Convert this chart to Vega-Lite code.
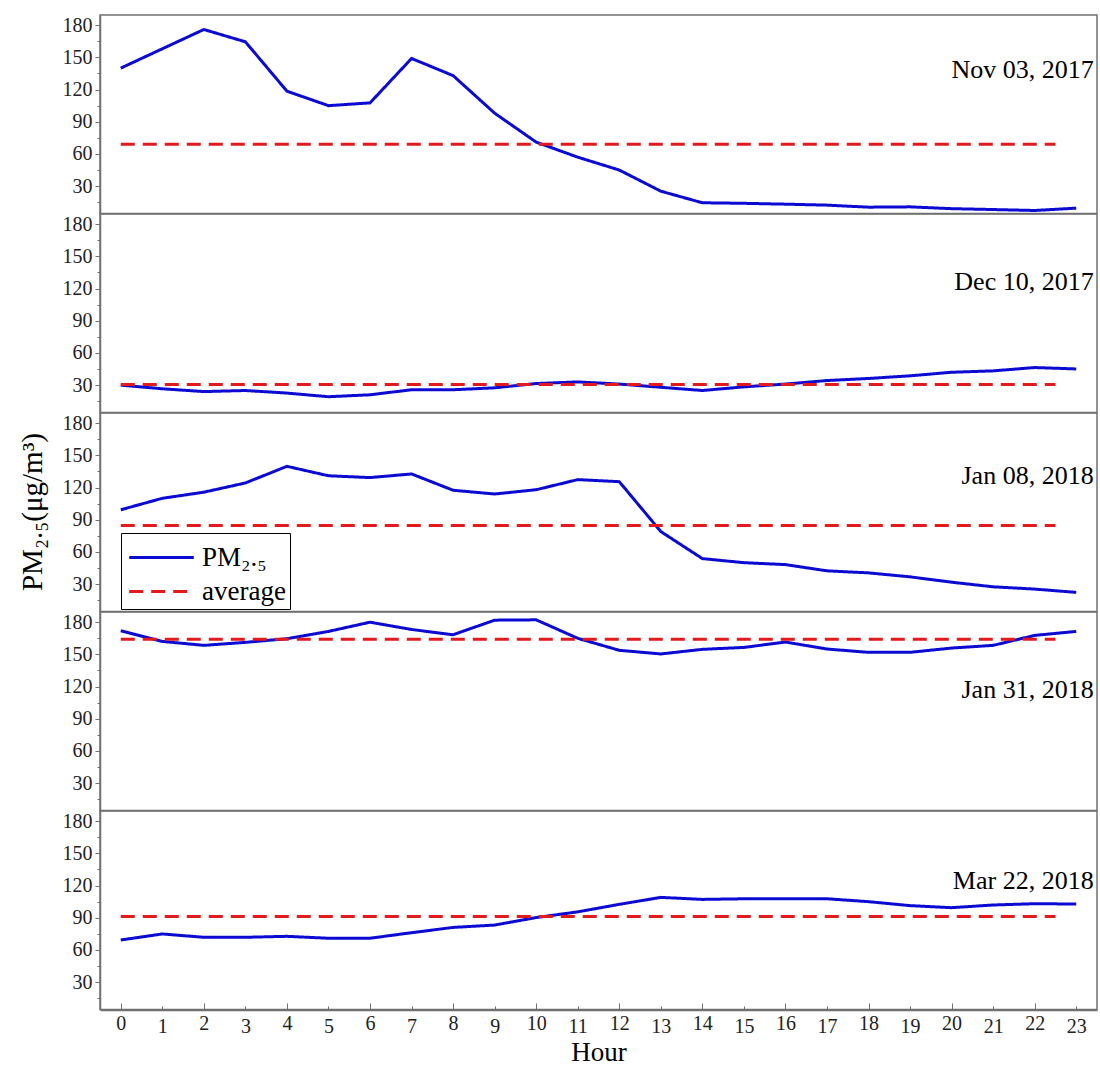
{
  "$schema": "https://vega.github.io/schema/vega-lite/v6.json",
  "padding": {"left": 18, "top": 14, "right": 3, "bottom": 0},
  "background": "white",
  "bounds": "flush",
  "datasets": {
    "pm": [
      {"date":"Nov 03, 2017","series":"PM₂.₅","hour":0,"value":140},{"date":"Nov 03, 2017","series":"PM₂.₅","hour":1,"value":158},{"date":"Nov 03, 2017","series":"PM₂.₅","hour":2,"value":176},{"date":"Nov 03, 2017","series":"PM₂.₅","hour":3,"value":164.5},{"date":"Nov 03, 2017","series":"PM₂.₅","hour":4,"value":118.5},{"date":"Nov 03, 2017","series":"PM₂.₅","hour":5,"value":105},{"date":"Nov 03, 2017","series":"PM₂.₅","hour":6,"value":107.6},{"date":"Nov 03, 2017","series":"PM₂.₅","hour":7,"value":149},{"date":"Nov 03, 2017","series":"PM₂.₅","hour":8,"value":133},{"date":"Nov 03, 2017","series":"PM₂.₅","hour":9,"value":98},{"date":"Nov 03, 2017","series":"PM₂.₅","hour":10,"value":71},{"date":"Nov 03, 2017","series":"PM₂.₅","hour":11,"value":57},{"date":"Nov 03, 2017","series":"PM₂.₅","hour":12,"value":45},{"date":"Nov 03, 2017","series":"PM₂.₅","hour":13,"value":25.3},{"date":"Nov 03, 2017","series":"PM₂.₅","hour":14,"value":14.5},{"date":"Nov 03, 2017","series":"PM₂.₅","hour":15,"value":14},{"date":"Nov 03, 2017","series":"PM₂.₅","hour":16,"value":13.2},{"date":"Nov 03, 2017","series":"PM₂.₅","hour":17,"value":12.3},{"date":"Nov 03, 2017","series":"PM₂.₅","hour":18,"value":10.4},{"date":"Nov 03, 2017","series":"PM₂.₅","hour":19,"value":10.7},{"date":"Nov 03, 2017","series":"PM₂.₅","hour":20,"value":9},{"date":"Nov 03, 2017","series":"PM₂.₅","hour":21,"value":8.2},{"date":"Nov 03, 2017","series":"PM₂.₅","hour":22,"value":7.3},{"date":"Nov 03, 2017","series":"PM₂.₅","hour":23,"value":9.5},
      {"date":"Nov 03, 2017","series":"average","hour":0,"value":69},{"date":"Nov 03, 2017","series":"average","hour":22.5,"value":69},
      {"date":"Dec 10, 2017","series":"PM₂.₅","hour":0,"value":30},{"date":"Dec 10, 2017","series":"PM₂.₅","hour":1,"value":26.6},{"date":"Dec 10, 2017","series":"PM₂.₅","hour":2,"value":24},{"date":"Dec 10, 2017","series":"PM₂.₅","hour":3,"value":25},{"date":"Dec 10, 2017","series":"PM₂.₅","hour":4,"value":22.6},{"date":"Dec 10, 2017","series":"PM₂.₅","hour":5,"value":19.2},{"date":"Dec 10, 2017","series":"PM₂.₅","hour":6,"value":21},{"date":"Dec 10, 2017","series":"PM₂.₅","hour":7,"value":25.7},{"date":"Dec 10, 2017","series":"PM₂.₅","hour":8,"value":25.7},{"date":"Dec 10, 2017","series":"PM₂.₅","hour":9,"value":27.5},{"date":"Dec 10, 2017","series":"PM₂.₅","hour":10,"value":31.5},{"date":"Dec 10, 2017","series":"PM₂.₅","hour":11,"value":33},{"date":"Dec 10, 2017","series":"PM₂.₅","hour":12,"value":31},{"date":"Dec 10, 2017","series":"PM₂.₅","hour":13,"value":28},{"date":"Dec 10, 2017","series":"PM₂.₅","hour":14,"value":25},{"date":"Dec 10, 2017","series":"PM₂.₅","hour":15,"value":28.4},{"date":"Dec 10, 2017","series":"PM₂.₅","hour":16,"value":31},{"date":"Dec 10, 2017","series":"PM₂.₅","hour":17,"value":34.3},{"date":"Dec 10, 2017","series":"PM₂.₅","hour":18,"value":36.2},{"date":"Dec 10, 2017","series":"PM₂.₅","hour":19,"value":38.7},{"date":"Dec 10, 2017","series":"PM₂.₅","hour":20,"value":42},{"date":"Dec 10, 2017","series":"PM₂.₅","hour":21,"value":43.3},{"date":"Dec 10, 2017","series":"PM₂.₅","hour":22,"value":46.4},{"date":"Dec 10, 2017","series":"PM₂.₅","hour":23,"value":45.1},
      {"date":"Dec 10, 2017","series":"average","hour":0,"value":30.5},{"date":"Dec 10, 2017","series":"average","hour":22.5,"value":30.5},
      {"date":"Jan 08, 2018","series":"PM₂.₅","hour":0,"value":99.3},{"date":"Jan 08, 2018","series":"PM₂.₅","hour":1,"value":110},{"date":"Jan 08, 2018","series":"PM₂.₅","hour":2,"value":115.7},{"date":"Jan 08, 2018","series":"PM₂.₅","hour":3,"value":124.3},{"date":"Jan 08, 2018","series":"PM₂.₅","hour":4,"value":139.8},{"date":"Jan 08, 2018","series":"PM₂.₅","hour":5,"value":131},{"date":"Jan 08, 2018","series":"PM₂.₅","hour":6,"value":129.3},{"date":"Jan 08, 2018","series":"PM₂.₅","hour":7,"value":132.7},{"date":"Jan 08, 2018","series":"PM₂.₅","hour":8,"value":117.5},{"date":"Jan 08, 2018","series":"PM₂.₅","hour":9,"value":114},{"date":"Jan 08, 2018","series":"PM₂.₅","hour":10,"value":118},{"date":"Jan 08, 2018","series":"PM₂.₅","hour":11,"value":127.4},{"date":"Jan 08, 2018","series":"PM₂.₅","hour":12,"value":125.5},{"date":"Jan 08, 2018","series":"PM₂.₅","hour":13,"value":79},{"date":"Jan 08, 2018","series":"PM₂.₅","hour":14,"value":53.8},{"date":"Jan 08, 2018","series":"PM₂.₅","hour":15,"value":50},{"date":"Jan 08, 2018","series":"PM₂.₅","hour":16,"value":48.2},{"date":"Jan 08, 2018","series":"PM₂.₅","hour":17,"value":42.4},{"date":"Jan 08, 2018","series":"PM₂.₅","hour":18,"value":40.5},{"date":"Jan 08, 2018","series":"PM₂.₅","hour":19,"value":36.8},{"date":"Jan 08, 2018","series":"PM₂.₅","hour":20,"value":31.8},{"date":"Jan 08, 2018","series":"PM₂.₅","hour":21,"value":27.5},{"date":"Jan 08, 2018","series":"PM₂.₅","hour":22,"value":25.4},{"date":"Jan 08, 2018","series":"PM₂.₅","hour":23,"value":22.3},
      {"date":"Jan 08, 2018","series":"average","hour":0,"value":84.7},{"date":"Jan 08, 2018","series":"average","hour":22.5,"value":84.7},
      {"date":"Jan 31, 2018","series":"PM₂.₅","hour":0,"value":172},{"date":"Jan 31, 2018","series":"PM₂.₅","hour":1,"value":162.1},{"date":"Jan 31, 2018","series":"PM₂.₅","hour":2,"value":158.4},{"date":"Jan 31, 2018","series":"PM₂.₅","hour":3,"value":161.2},{"date":"Jan 31, 2018","series":"PM₂.₅","hour":4,"value":164.6},{"date":"Jan 31, 2018","series":"PM₂.₅","hour":5,"value":171.4},{"date":"Jan 31, 2018","series":"PM₂.₅","hour":6,"value":180},{"date":"Jan 31, 2018","series":"PM₂.₅","hour":7,"value":173.2},{"date":"Jan 31, 2018","series":"PM₂.₅","hour":8,"value":168.3},{"date":"Jan 31, 2018","series":"PM₂.₅","hour":9,"value":181.9},{"date":"Jan 31, 2018","series":"PM₂.₅","hour":10,"value":182.2},{"date":"Jan 31, 2018","series":"PM₂.₅","hour":11,"value":165},{"date":"Jan 31, 2018","series":"PM₂.₅","hour":12,"value":153.8},{"date":"Jan 31, 2018","series":"PM₂.₅","hour":13,"value":150.4},{"date":"Jan 31, 2018","series":"PM₂.₅","hour":14,"value":154.7},{"date":"Jan 31, 2018","series":"PM₂.₅","hour":15,"value":156.5},{"date":"Jan 31, 2018","series":"PM₂.₅","hour":16,"value":161.5},{"date":"Jan 31, 2018","series":"PM₂.₅","hour":17,"value":155},{"date":"Jan 31, 2018","series":"PM₂.₅","hour":18,"value":151.9},{"date":"Jan 31, 2018","series":"PM₂.₅","hour":19,"value":151.9},{"date":"Jan 31, 2018","series":"PM₂.₅","hour":20,"value":155.9},{"date":"Jan 31, 2018","series":"PM₂.₅","hour":21,"value":158.4},{"date":"Jan 31, 2018","series":"PM₂.₅","hour":22,"value":167.7},{"date":"Jan 31, 2018","series":"PM₂.₅","hour":23,"value":171.4},
      {"date":"Jan 31, 2018","series":"average","hour":0,"value":164},{"date":"Jan 31, 2018","series":"average","hour":22.5,"value":164},
      {"date":"Mar 22, 2018","series":"PM₂.₅","hour":0,"value":69.3},{"date":"Mar 22, 2018","series":"PM₂.₅","hour":1,"value":74.9},{"date":"Mar 22, 2018","series":"PM₂.₅","hour":2,"value":71.8},{"date":"Mar 22, 2018","series":"PM₂.₅","hour":3,"value":71.8},{"date":"Mar 22, 2018","series":"PM₂.₅","hour":4,"value":72.7},{"date":"Mar 22, 2018","series":"PM₂.₅","hour":5,"value":70.9},{"date":"Mar 22, 2018","series":"PM₂.₅","hour":6,"value":70.9},{"date":"Mar 22, 2018","series":"PM₂.₅","hour":7,"value":76.1},{"date":"Mar 22, 2018","series":"PM₂.₅","hour":8,"value":81},{"date":"Mar 22, 2018","series":"PM₂.₅","hour":9,"value":83.2},{"date":"Mar 22, 2018","series":"PM₂.₅","hour":10,"value":90.2},{"date":"Mar 22, 2018","series":"PM₂.₅","hour":11,"value":95.5},{"date":"Mar 22, 2018","series":"PM₂.₅","hour":12,"value":102.5},{"date":"Mar 22, 2018","series":"PM₂.₅","hour":13,"value":109},{"date":"Mar 22, 2018","series":"PM₂.₅","hour":14,"value":107.1},{"date":"Mar 22, 2018","series":"PM₂.₅","hour":15,"value":107.7},{"date":"Mar 22, 2018","series":"PM₂.₅","hour":16,"value":107.7},{"date":"Mar 22, 2018","series":"PM₂.₅","hour":17,"value":107.7},{"date":"Mar 22, 2018","series":"PM₂.₅","hour":18,"value":105},{"date":"Mar 22, 2018","series":"PM₂.₅","hour":19,"value":101.3},{"date":"Mar 22, 2018","series":"PM₂.₅","hour":20,"value":99.4},{"date":"Mar 22, 2018","series":"PM₂.₅","hour":21,"value":101.9},{"date":"Mar 22, 2018","series":"PM₂.₅","hour":22,"value":103.1},{"date":"Mar 22, 2018","series":"PM₂.₅","hour":23,"value":102.8},
      {"date":"Mar 22, 2018","series":"average","hour":0,"value":91.2},{"date":"Mar 22, 2018","series":"average","hour":22.5,"value":91.2},
      {"date":"Nov 03, 2017","series":"label","value":138},
      {"date":"Dec 10, 2017","series":"label","value":126},
      {"date":"Jan 08, 2018","series":"label","value":131},
      {"date":"Jan 31, 2018","series":"label","value":116.5},
      {"date":"Mar 22, 2018","series":"label","value":124}
    ]
  },
  "data": {"name": "pm"},
  "facet": {
    "row": {
      "field": "date", "type": "nominal",
      "sort": ["Nov 03, 2017","Dec 10, 2017","Jan 08, 2018","Jan 31, 2018","Mar 22, 2018"],
      "header": {"labels": false, "title": "PM₂.₅(μg/m³)", "titleFont": "Liberation Serif", "titleFontSize": 29, "titleFontWeight": "normal", "titleColor": "black", "titlePadding": 4}
    }
  },
  "spacing": 0,
  "spec": {
    "width": 997,
    "height": 198.5,
    "layer": [
      {
        "transform": [{"filter": "datum.series != 'label'"}],
        "mark": {"type": "line", "strokeWidth": 3},
        "encoding": {
          "x": {"field": "hour", "type": "quantitative",
                "scale": {"domain": [-0.5, 23.5], "nice": false, "zero": false},
                "axis": {"title": "Hour", "values": [0,1,2,3,4,5,6,7,8,9,10,11,12,13,14,15,16,17,18,19,20,21,22,23],
                         "tickCount": 30, "grid": false, "labelFlush": false, "labelOverlap": false,
                         "tickSize": {"condition": {"test": "datum.value % 2 === 0", "value": -7}, "value": -4},
                         "labelPadding": 10, "titlePadding": 3, "titleFontSize": 27}},
          "y": {"field": "value", "type": "quantitative",
                "scale": {"domain": [4.5, 189.5], "nice": false, "zero": false},
                "axis": {"title": null, "values": [15,30,45,60,75,90,105,120,135,150,165,180], "tickCount": 20,
                         "labelExpr": "datum.value % 30 === 0 ? datum.label : ''",
                         "tickSize": {"condition": {"test": "datum.value % 30 === 0", "value": 5}, "value": 3},
                         "grid": false, "labelOverlap": false, "labelPadding": 3}},
          "color": {"field": "series", "type": "nominal",
                    "scale": {"domain": ["PM₂.₅", "average"], "range": ["#0a0ad2", "#e3191c"]},
                    "legend": {"title": null, "orient": "none", "legendX": 21, "legendY": 518,
                               "strokeColor": "black", "fillColor": "white", "padding": 4,
                               "symbolType": "M-1.7,0L1.7,0", "symbolSize": 1444, "symbolStrokeWidth": 3,
                               "symbolFillColor": "transparent", "symbolOffset": 16,
                               "labelFont": "Liberation Serif", "labelFontSize": 27, "labelColor": "black",
                               "rowPadding": 0, "labelOffset": 20}},
          "strokeDash": {"field": "series", "type": "nominal",
                         "scale": {"domain": ["PM₂.₅", "average"], "range": [[1, 0], [14, 8]]},
                         "legend": {"title": null}},
          "order": {"field": "hour", "type": "quantitative"}
        }
      },
      {
        "transform": [{"filter": "datum.series == 'label'"}],
        "mark": {"type": "text", "align": "right", "baseline": "middle", "font": "Liberation Serif", "fontSize": 26, "color": "black"},
        "encoding": {
          "x": {"datum": 23.42, "type": "quantitative"},
          "y": {"field": "value", "type": "quantitative"},
          "text": {"field": "date", "type": "nominal"}
        }
      }
    ]
  },
  "config": {
    "view": {"stroke": "#707070", "strokeWidth": 1.5},
    "axis": {
      "labelFont": "Liberation Serif", "labelFontSize": 20, "labelColor": "#222",
      "titleFont": "Liberation Serif", "titleFontSize": 28, "titleFontWeight": "normal", "titleColor": "black",
      "domainColor": "#707070", "tickColor": "#707070", "domainWidth": 1.5
    }
  }
}
